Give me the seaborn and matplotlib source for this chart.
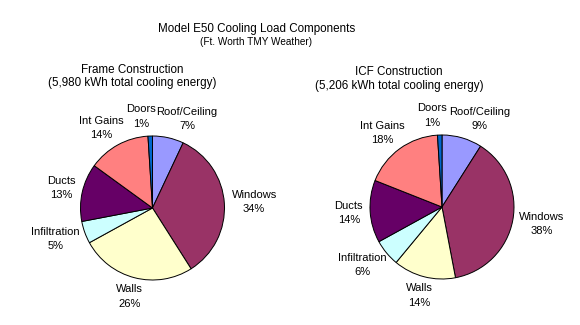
import numpy as np
import matplotlib
matplotlib.use("Agg")
import matplotlib.pyplot as plt
import seaborn as sns

sns.set_theme(style="white")
plt.rcParams['font.family'] = ['Liberation Sans', 'DejaVu Sans']
plt.rcParams['text.color'] = 'black'

categories = ["Roof/Ceiling", "Windows", "Walls", "Infiltration", "Ducts", "Int Gains", "Doors"]
frame_values = [7, 34, 26, 5, 13, 14, 1]
icf_values = [9, 38, 14, 6, 14, 18, 1]
colors = ["#9999FF", "#993366", "#FFFFCC", "#CCFFFF", "#660066", "#FF8080", "#0066CC"]

main_title = "Model E50 Cooling Load Components"
sub_title = "(Ft. Worth TMY Weather)"
frame_title = "Frame Construction\n(5,980 kWh total cooling energy)"
icf_title = "ICF Construction\n(5,206 kWh total cooling energy)"

W, H = 580, 325
fig = plt.figure(figsize=(W / 100, H / 100), dpi=100)
fig.patch.set_facecolor("white")
R = 72.0


def px_axes(cx, cy, hw, hh):
    ax = fig.add_axes([(cx - hw) / W, (H - (cy + hh)) / H, 2 * hw / W, 2 * hh / H])
    return ax, hw / R, hh / R


def draw_pie(cx, cy, hw, hh, values):
    ax, xl, yl = px_axes(cx, cy, hw, hh)
    wedges, _ = ax.pie(values, colors=colors, startangle=90, counterclock=False,
                       wedgeprops=dict(edgecolor="black", linewidth=0.7))
    ax.set_xlim(-xl, xl)
    ax.set_ylim(-yl, yl)
    ax.set_aspect("auto")
    ax.axis("off")
    return ax, wedges


def place_labels(ax, wedges, values, k=1.1):
    texts = []
    for w, name, v in zip(wedges, categories, values):
        ang = np.deg2rad((w.theta1 + w.theta2) / 2)
        t = ax.text(0, 0, f"{name}\n{v}%", ha="center", va="center",
                    multialignment="center", fontsize=8, linespacing=1.55, color="black")
        texts.append((t, np.cos(ang), np.sin(ang)))
    fig.canvas.draw()
    rend = fig.canvas.get_renderer()
    inv = ax.transData.inverted()
    boxes = []
    for t, ux, uy in texts:
        bb = t.get_window_extent(rend).transformed(inv)
        bw, bh = bb.width, bb.height
        x = k * ux + ux * bw / 2
        y = k * uy + uy * bh / 2
        boxes.append([x, y, bw, bh])
    for _ in range(10):
        for i in range(len(boxes)):
            for j in range(i + 1, len(boxes)):
                a, b = boxes[i], boxes[j]
                ox = (a[2] + b[2]) / 2 - abs(a[0] - b[0])
                oy = (a[3] + b[3]) / 2 - abs(a[1] - b[1])
                if ox > 0 and oy > 0:
                    s = ox / 2 + 0.02
                    if a[0] < b[0]:
                        a[0] -= s
                        b[0] += s
                    else:
                        a[0] += s
                        b[0] -= s
    for (t, _, _), bx in zip(texts, boxes):
        t.set_position((bx[0], bx[1]))


ax1, w1 = draw_pie(152.5, 208, 140, 110, frame_values)
ax2, w2 = draw_pie(442, 207, 138, 110, icf_values)
place_labels(ax1, w1, frame_values)
place_labels(ax2, w2, icf_values)

fig.text(256.5 / W, 1 - 29 / H, main_title, ha="center", va="center", fontsize=8.4, color="black")
fig.text(256.5 / W, 1 - 42 / H, sub_title, ha="center", va="center", fontsize=7.2, color="black")
fig.text(132 / W, 1 - 76.5 / H, frame_title, ha="center", va="center", fontsize=8.4,
         multialignment="center", linespacing=1.15, color="black")
fig.text(399 / W, 1 - 79 / H, icf_title, ha="center", va="center", fontsize=8.4,
         multialignment="center", linespacing=1.15, color="black")

fig.savefig("out.png", dpi=100, facecolor="white")
